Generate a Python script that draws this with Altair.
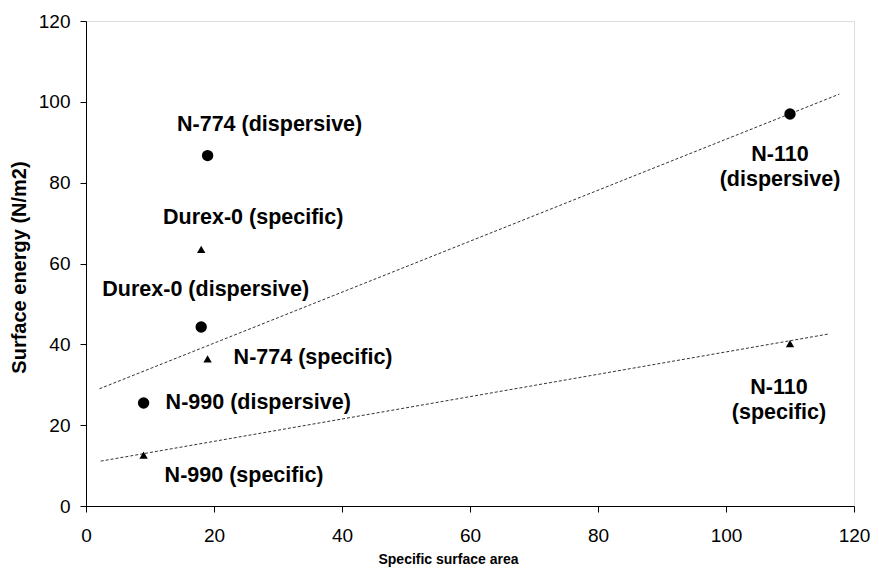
import altair as alt
import pandas as pd

# ---- data ----
materials = ["N-990", "Durex-0", "N-774", "N-110"]
surface_area = [9, 18, 19, 110]
dispersive = [25.5, 44.3, 86.7, 97.0]
specific = [12.6, 63.5, 36.4, 40.2]

fit_disp_x = [2.1, 117.7]
fit_disp_y = [29.0, 101.9]
fit_spec_x = [2.3, 116.2]
fit_spec_y = [11.1, 42.6]

x_ticks = [0, 20, 40, 60, 80, 100, 120]
y_ticks = [0, 20, 40, 60, 80, 100, 120]

# ---- tables ----
rows = []
for m, a, d, s in zip(materials, surface_area, dispersive, specific):
    rows.append({"material": m, "ssa": a, "energy": d, "kind": "dispersive"})
    rows.append({"material": m, "ssa": a, "energy": s, "kind": "specific"})
pts = pd.DataFrame(rows)
pts["label"] = pts["material"] + " (" + pts["kind"] + ")"
pts.loc[pts["material"] == "N-110", "label"] = (
    pts["material"] + "\n(" + pts["kind"] + ")"
)

fits = pd.DataFrame(
    {"ssa": fit_disp_x + fit_spec_x,
     "energy": fit_disp_y + fit_spec_y,
     "kind": ["dispersive"] * 2 + ["specific"] * 2}
)

FONT = "Liberation Sans"

xs = alt.Scale(domain=[0, 120], nice=False, zero=False)
ys = alt.Scale(domain=[0, 120], nice=False, zero=False)

xenc = alt.X(
    "ssa:Q", scale=xs,
    axis=alt.Axis(
        title="Specific surface area", values=x_ticks, grid=False,
        tickSize=6, labelPadding=14, labelFontSize=19, labelFont=FONT,
        labelColor="black", domainColor="black", tickColor="black",
        titleFont=FONT, titleFontSize=14, titleFontWeight="bold",
        titleColor="black", titleX=362, titleY=53,
        titleAlign="center", titleBaseline="middle", labelFlush=False,
    ),
)
yenc = alt.Y(
    "energy:Q", scale=ys,
    axis=alt.Axis(
        title="Surface energy (N/m2)", values=y_ticks, grid=False,
        tickSize=6, labelPadding=10, labelFontSize=19, labelFont=FONT,
        labelColor="black", domainColor="black", tickColor="black",
        titleFont=FONT, titleFontSize=20, titleFontWeight="bold",
        titleColor="black", titleX=-67, titleY=246, titleAngle=-90,
        titleAlign="center", titleBaseline="middle", labelFlush=False,
    ),
)

base = alt.Chart(pts)

lines = alt.Chart(fits).mark_line(
    color="#333333", strokeWidth=1, strokeDash=[3, 2]
).encode(x=xenc, y=yenc, detail="kind:N")

circles = base.transform_filter(alt.datum.kind == "dispersive").mark_point(
    shape="circle", filled=True, color="black", opacity=1, size=130
).encode(x=xenc, y=yenc)

triangles = base.transform_filter(alt.datum.kind == "specific").mark_point(
    shape="triangle-up", filled=True, color="black", opacity=1, size=70
).encode(x=xenc, y=yenc)

# label offsets (pixels) relative to each point
offsets = {
    ("N-774", "dispersive"): (62, -31, "center"),
    ("Durex-0", "specific"): (52, -31, "center"),
    ("Durex-0", "dispersive"): (4.5, -37, "center"),
    ("N-774", "specific"): (26, -1, "left"),
    ("N-990", "dispersive"): (22, 0, "left"),
    ("N-990", "specific"): (21, 21, "left"),
    ("N-110", "dispersive"): (-10, 41.5, "center"),
    ("N-110", "specific"): (-11, 44, "center"),
}

label_layers = []
for (m, k), (dx, dy, al) in offsets.items():
    label_layers.append(
        base.transform_filter(
            (alt.datum.material == m) & (alt.datum.kind == k)
        ).mark_text(
            font=FONT, fontSize=21.5, fontWeight="bold", color="black",
            align=al, baseline="middle", dx=dx, dy=dy,
            lineBreak="\n", lineHeight=25,
        ).encode(x=xenc, y=yenc, text="label:N")
    )

chart = alt.layer(lines, circles, triangles, *label_layers).properties(
    width=768, height=485,
    autosize=alt.AutoSizeParams(type="none"),
    padding={"left": 78, "top": 13, "right": 17, "bottom": 61},
).configure_view(
    stroke="#808080", strokeWidth=1
).configure(background="white")

chart.save("out.html", embed_options={"renderer": "svg", "actions": False})
